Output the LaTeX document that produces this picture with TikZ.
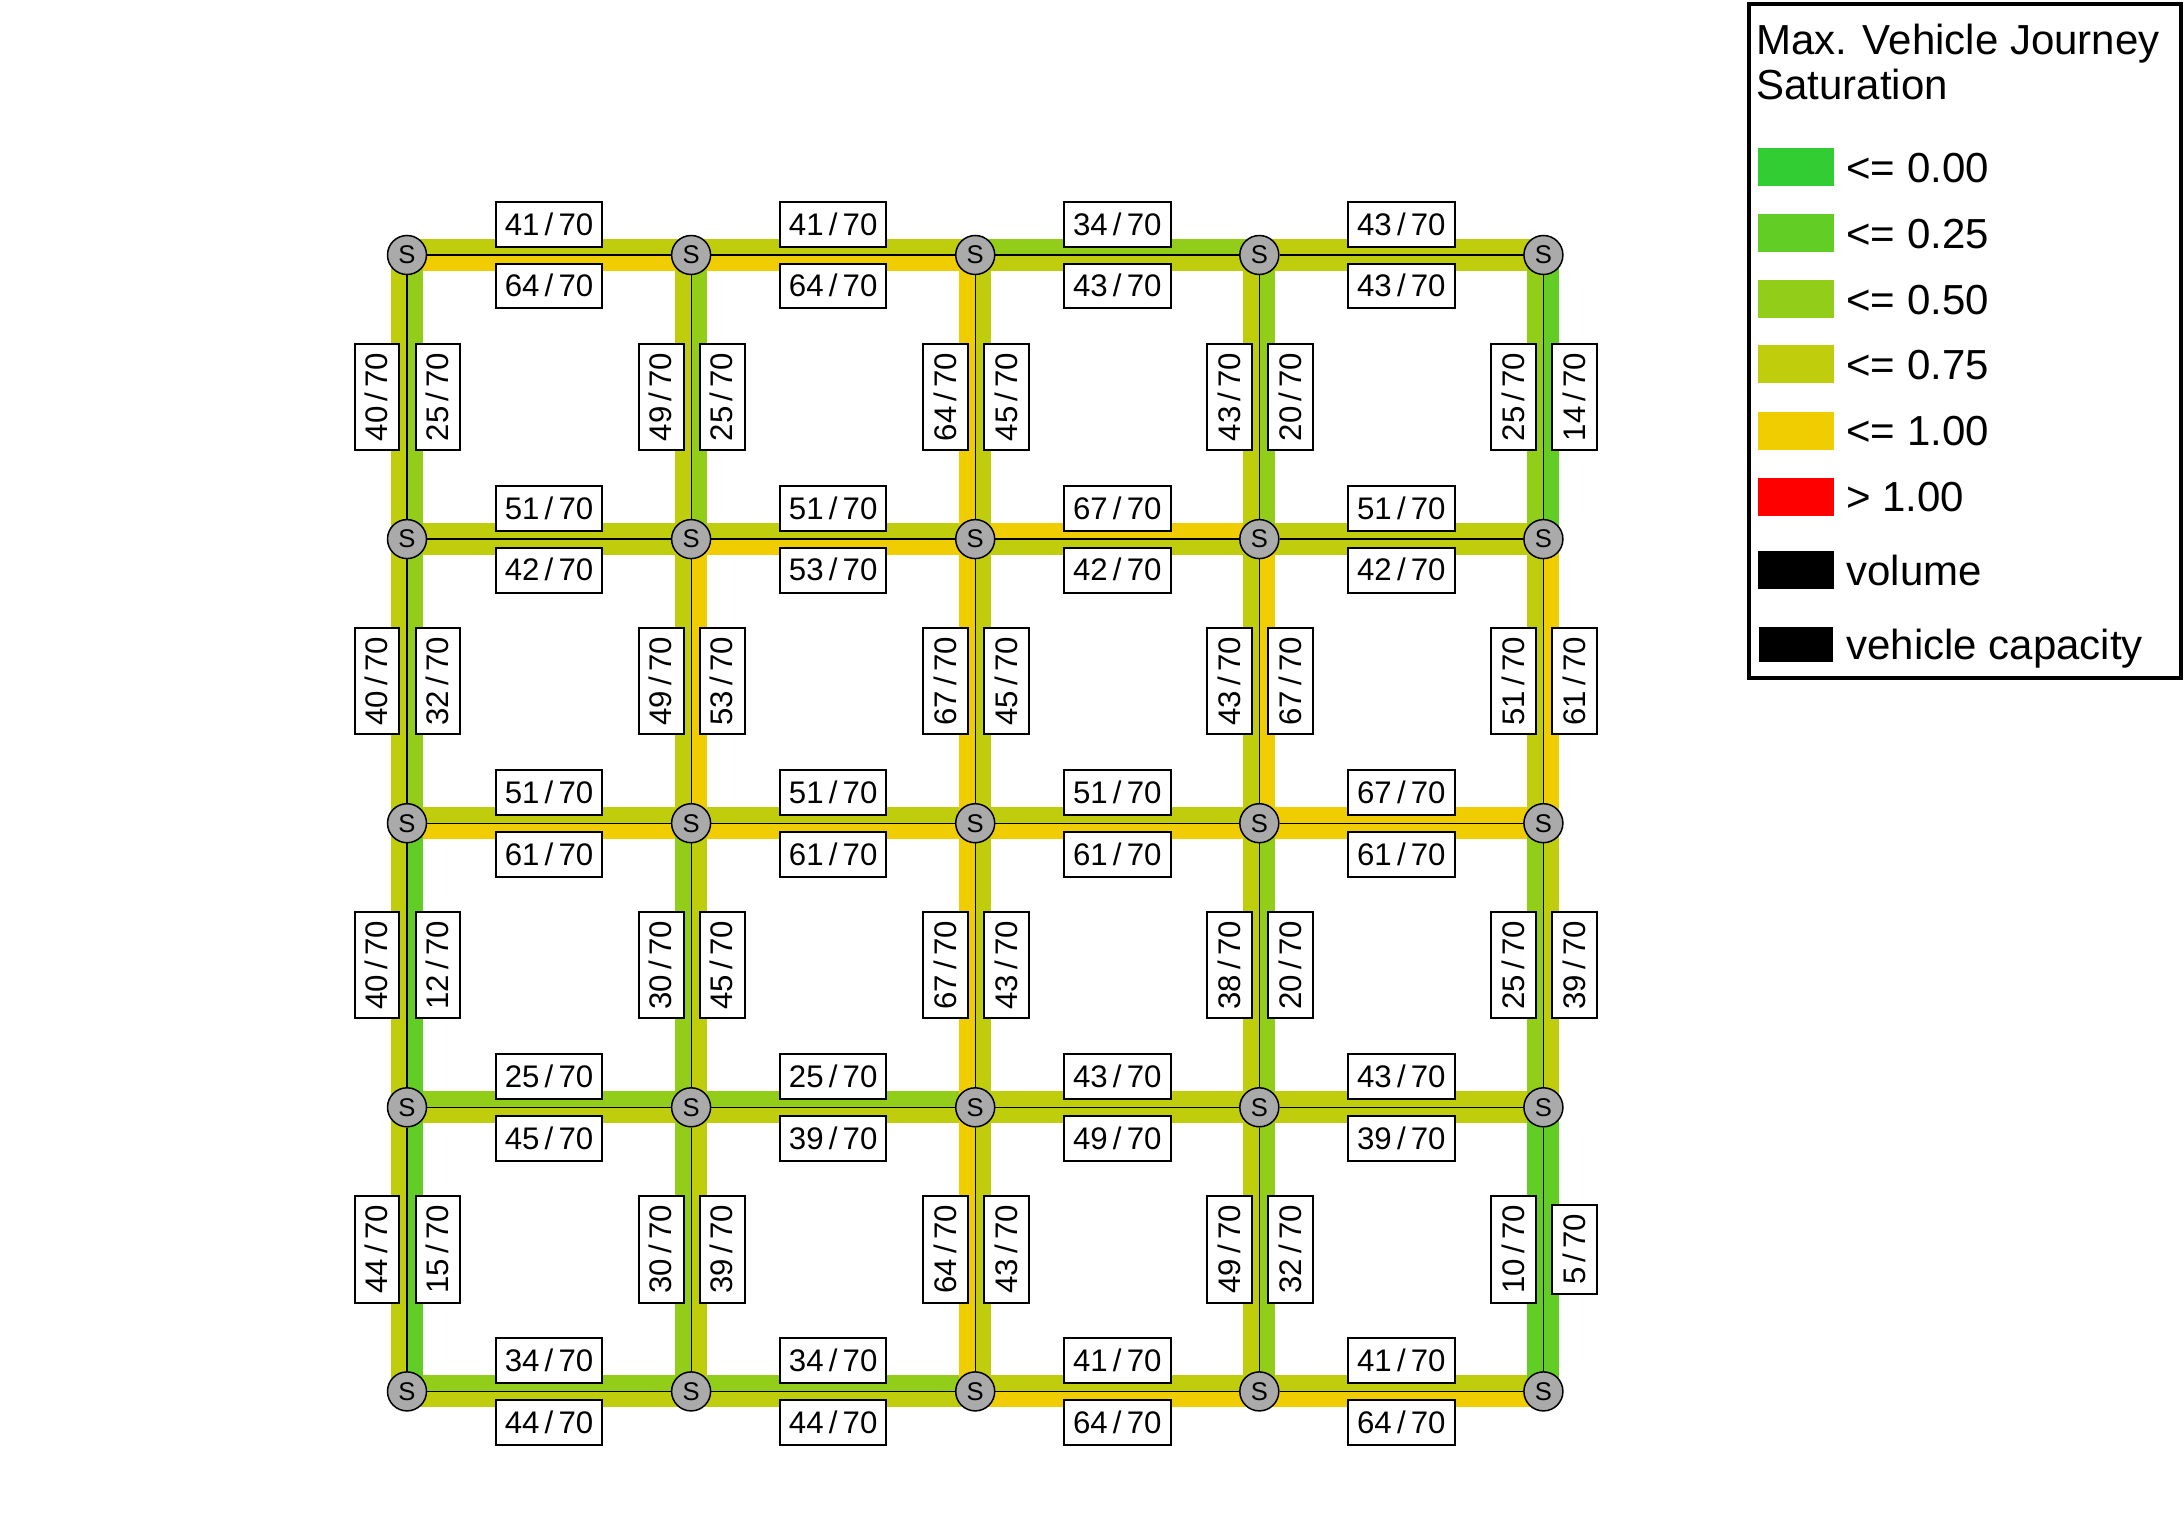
\documentclass[tikz,border=0pt]{standalone}
\usepackage{fontspec}
\setmainfont{Liberation Sans}
\usetikzlibrary{calc}
\pgfdeclarelayer{background}
\pgfsetlayers{background,main}
\definecolor{satA}{RGB}{50,205,50}
\definecolor{satB}{RGB}{97,205,37}
\definecolor{satC}{RGB}{145,205,25}
\definecolor{satD}{RGB}{192,205,12}
\definecolor{satE}{RGB}{240,205,0}
\definecolor{satF}{RGB}{255,0,0}
\definecolor{nodegray}{RGB}{170,170,170}
\newcommand\pickcol[1]{\ifnum#1<18 \def\cc{satB}\else\ifnum#1<36 \def\cc{satC}\else\ifnum#1<53 \def\cc{satD}\else\def\cc{satE}\fi\fi\fi}
\tikzset{
 snode/.style={circle, draw=black, line width=0.75pt, fill=nodegray, minimum size=19.5pt, inner sep=0pt, font=\fontsize{12.8}{13}\selectfont},
 lbl/.style={draw=black, fill=white, line width=1pt, inner xsep=4.5pt, inner ysep=5.8pt, text height=10.85pt, text depth=0pt, font=\fontsize{15.6}{16}\selectfont},
 cline/.style={draw=black, line width=0.6pt},
 legtxt/.style={anchor=base west, inner sep=0pt, font=\fontsize{21}{22}\selectfont},
 swatch/.style={minimum width=38pt, minimum height=19pt, inner sep=0pt, draw=none}
}
\begin{document}
\begin{tikzpicture}[x=0.5pt,y=0.5pt]
\useasboundingbox (0,0) rectangle (2184,-1534);
% grid nodes
\foreach \i in {0,...,4}{\foreach \j in {0,...,4}{
  \node[snode] (n-\i-\j) at ({407+284.1*\i},{-255-284.1*\j}) {S};
}}
% horizontal edges
\foreach \row/\col/\va/\vb in {0/0/41/64, 0/1/41/64, 0/2/34/43, 0/3/43/43,
  1/0/51/42, 1/1/51/53, 1/2/67/42, 1/3/51/42,
  2/0/51/61, 2/1/51/61, 2/2/51/61, 2/3/67/61,
  3/0/25/45, 3/1/25/39, 3/2/43/49, 3/3/43/39,
  4/0/34/44, 4/1/34/44, 4/2/41/64, 4/3/41/64}{
  \pgfmathtruncatemacro\cn{\col+1}
  \pickcol{\va}\let\ca\cc
  \pickcol{\vb}\let\cb\cc
  \begin{pgfonlayer}{background}
    \fill[fill=\ca] (n-\col-\row.center) rectangle ($(n-\cn-\row.center)+(0,16)$);
    \fill[fill=\cb] (n-\col-\row.center) rectangle ($(n-\cn-\row.center)+(0,-16)$);
  \end{pgfonlayer}
  \draw[cline] (n-\col-\row) -- (n-\cn-\row);
  \node[lbl] (hu-\row-\col) at ($(n-\col-\row)!0.5!(n-\cn-\row)+(0,30.5)$) {\va\,/\,70};
  \node[lbl] (hl-\row-\col) at ($(n-\col-\row)!0.5!(n-\cn-\row)+(0,-31)$) {\vb\,/\,70};
}
% vertical edges
\foreach \col/\row/\va/\vb in {0/0/40/25, 1/0/49/25, 2/0/64/45, 3/0/43/20, 4/0/25/14,
  0/1/40/32, 1/1/49/53, 2/1/67/45, 3/1/43/67, 4/1/51/61,
  0/2/40/12, 1/2/30/45, 2/2/67/43, 3/2/38/20, 4/2/25/39,
  0/3/44/15, 1/3/30/39, 2/3/64/43, 3/3/49/32, 4/3/10/5}{
  \pgfmathtruncatemacro\rn{\row+1}
  \pickcol{\va}\let\ca\cc
  \pickcol{\vb}\let\cb\cc
  \begin{pgfonlayer}{background}
    \fill[fill=\ca] ($(n-\col-\row.center)+(-16,0)$) rectangle (n-\col-\rn.center);
    \fill[fill=\cb] (n-\col-\row.center) rectangle ($(n-\col-\rn.center)+(16,0)$);
  \end{pgfonlayer}
  \draw[cline] (n-\col-\row) -- (n-\col-\rn);
  \node[lbl, rotate=90] (vl-\col-\row) at ($(n-\col-\row)!0.5!(n-\col-\rn)+(-30,0)$) {\va\,/\,70};
  \node[lbl, rotate=90] (vr-\col-\row) at ($(n-\col-\row)!0.5!(n-\col-\rn)+(31,0)$) {\vb\,/\,70};
}
% legend
\draw[line width=1.75pt] (1749,-4) rectangle (2181,-678);
\node[legtxt] (lt1) at (1756,-55) {Max. Vehicle Journey};
\node[legtxt] (lt2) at (1756,-100) {Saturation};
\foreach \k/\sc/\lab/\yc/\yb in {1/satA/{<= 0.00}/167/183, 2/satB/{<= 0.25}/233/249,
  3/satC/{<= 0.50}/299/315, 4/satD/{<= 0.75}/364.5/380, 5/satE/{<= 1.00}/431/446,
  6/satF/{> 1.00}/497/512, 7/black/{volume}/570.5/586}{
  \node[swatch, fill=\sc] (sw-\k) at (1796,-\yc) {};
  \node[legtxt] (sl-\k) at (1846,-\yb) {\lab};
}
\node[swatch, fill=black, minimum width=37pt, minimum height=17.5pt] (sw-8) at (1796,-644.5) {};
\node[legtxt] (sl-8) at (1846,-659) {vehicle capacity};
\end{tikzpicture}
\end{document}
